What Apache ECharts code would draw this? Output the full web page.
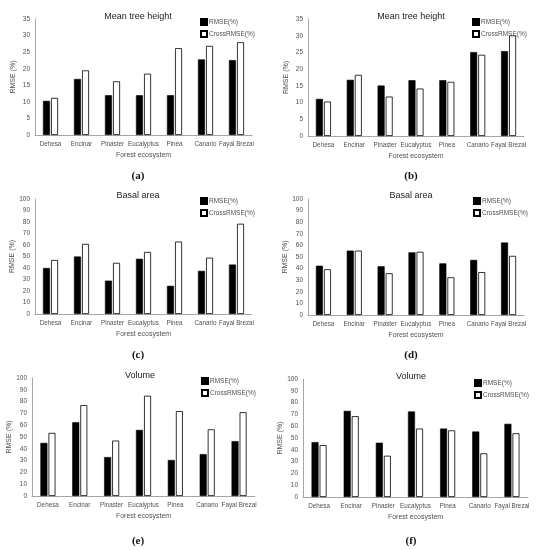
<!DOCTYPE html>
<html><head><meta charset="utf-8">
<script src="https://cdn.jsdelivr.net/npm/echarts@6/dist/echarts.min.js"></script>
<style>html,body{margin:0;padding:0;background:#fff}#c{width:536px;height:550px}</style>
</head><body><div id="c"></div>
<script>
const categories = ['Dehesa','Encinar','Pinaster','Eucalyptus','Pinea','Canario','Fayal Brezal'];
const heightRmseA  = [10.3, 16.9, 12.0, 12.0, 12.0, 22.8, 22.6];
const heightCrossA = [11.2, 19.5, 16.2, 18.5, 26.2, 26.9, 28.0];
const heightRmseB  = [11.1, 16.8, 15.1, 16.7, 16.7, 25.1, 25.4];
const heightCrossB = [10.3, 18.3, 11.8, 14.2, 16.2, 24.3, 30.1];
const basalRmseC   = [40.0, 50.0, 29.0, 48.0, 24.5, 37.5, 43.0];
const basalCrossC  = [47.0, 61.0, 44.5, 54.0, 63.0, 49.0, 78.5];
const basalRmseD   = [42.5, 55.5, 42.0, 54.0, 44.5, 47.5, 62.5];
const basalCrossD  = [39.5, 55.5, 36.0, 54.5, 32.5, 37.0, 51.0];
const volRmseE     = [45.0, 62.5, 33.0, 56.0, 30.5, 35.5, 46.5];
const volCrossE    = [53.5, 77.0, 47.0, 85.0, 72.0, 56.5, 71.0];
const volRmseF     = [46.5, 73.0, 46.0, 72.5, 58.0, 55.5, 62.0];
const volCrossF    = [44.0, 68.5, 35.0, 58.0, 56.5, 37.0, 54.0];
const panelTitles  = ['Mean tree height','Mean tree height','Basal area','Basal area','Volume','Volume'];
const panelLetters = ['(a)','(b)','(c)','(d)','(e)','(f)'];
const yMax = [35, 35, 100, 100, 100, 100];
const yStep = [5, 5, 10, 10, 10, 10];
const seriesNames = ['RMSE(%)','CrossRMSE(%)'];

const panels = [
  [heightRmseA, heightCrossA],[heightRmseB, heightCrossB],
  [basalRmseC, basalCrossC],[basalRmseD, basalCrossD],
  [volRmseE, volCrossE],[volRmseF, volCrossF]
];
const grids = [
  {left:35, top:19, width:217, height:116},
  {left:308, top:19, width:216, height:117},
  {left:35, top:199, width:217, height:115},
  {left:308, top:199, width:216, height:116},
  {left:32, top:378, width:223, height:118},
  {left:303, top:379, width:225, height:118}
];
const titlePos = [[133,7],[406,7],[133,186],[406,186],[135,366],[406,367]];
const letterPos = [[133,166],[406,166],[133,345],[406,345],[133,531],[406,531]];
const legendPos = [[195,13],[467,13],[195,192],[468,192],[196,372],[469,374]];

const font = 'Liberation Sans';
const txt = '#505050';
const axisGray = '#a6a6a6';
const option = {
  animation:false,
  textStyle:{fontFamily:font},
  title:[], legend:[], grid:[], xAxis:[], yAxis:[], series:[]
};
panels.forEach((p, i) => {
  option.grid.push(Object.assign({containLabel:false}, grids[i]));
  option.title.push({text:panelTitles[i], left:titlePos[i][0], top:titlePos[i][1], textAlign:'center',
    textStyle:{fontSize:9, fontWeight:'normal', color:'#222', fontFamily:font}});
  option.title.push({text:panelLetters[i], left:letterPos[i][0], top:letterPos[i][1], textAlign:'center',
    textStyle:{fontSize:11, fontWeight:'bold', color:'#111', fontFamily:'Liberation Serif'}});
  option.legend.push({orient:'vertical', left:legendPos[i][0], top:legendPos[i][1], itemWidth:6, itemHeight:6,
    itemGap:4, icon:'rect', data:seriesNames, selectedMode:false,
    textStyle:{fontSize:6.5, color:txt, padding:[0,0,0,-3], fontFamily:font}});
  option.xAxis.push({type:'category', gridIndex:i, data:categories,
    name:'Forest ecosystem', nameLocation:'middle', nameGap:17,
    nameTextStyle:{fontSize:7, color:txt, fontFamily:font},
    axisLine:{lineStyle:{color:axisGray, width:1}}, axisTick:{show:false},
    axisLabel:{fontSize:6.3, color:txt, margin:6, interval:0, fontFamily:font}});
  option.yAxis.push({type:'value', gridIndex:i, min:0, max:yMax[i], interval:yStep[i],
    name:'RMSE (%)', nameLocation:'middle', nameGap:18, nameRotate:90,
    nameTextStyle:{fontSize:7, color:txt, fontFamily:font},
    axisLine:{show:true, lineStyle:{color:axisGray, width:1}}, axisTick:{show:false},
    splitLine:{show:false}, axisLabel:{fontSize:6.5, color:txt, margin:5, fontFamily:font}});
  option.series.push({type:'bar', name:seriesNames[0], xAxisIndex:i, yAxisIndex:i, data:p[0],
    barWidth:7, barGap:'15%', itemStyle:{color:'#000', borderColor:'#000', borderWidth:0.6}});
  option.series.push({type:'bar', name:seriesNames[1], xAxisIndex:i, yAxisIndex:i, data:p[1],
    barWidth:7, barGap:'15%', itemStyle:{color:'#fff', borderColor:'#000', borderWidth:0.8}});
});
const chart = echarts.init(document.getElementById('c'), null, {renderer:'canvas'});
chart.setOption(option);
</script></body></html>
